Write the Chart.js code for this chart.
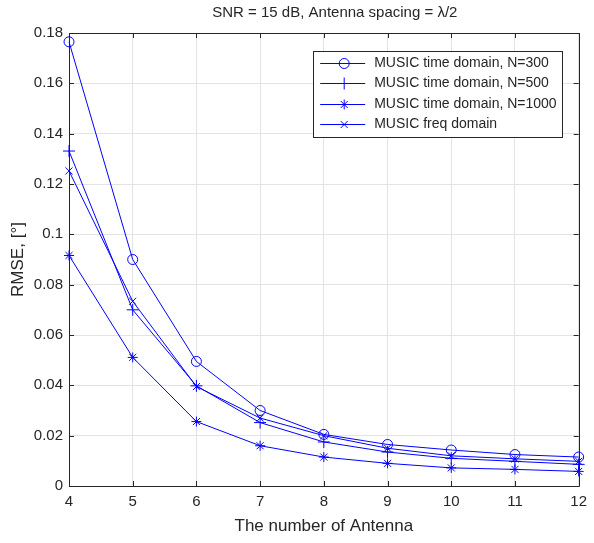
<!DOCTYPE html>
<html><head><meta charset="utf-8">
<script src="https://cdn.jsdelivr.net/npm/chart.js@4/dist/chart.umd.min.js"></script>
<style>html,body{margin:0;padding:0;background:#fff}#wrap{width:594px;height:543px;position:relative}</style>
</head><body><div id="wrap"><canvas id="c" width="594" height="543"></canvas></div>
<script>
// ---- data ----
const antennas = [4, 5, 6, 7, 8, 9, 10, 11, 12];
const rmseN300 = [0.1765, 0.0900, 0.0495, 0.0300, 0.0205, 0.0165, 0.0143, 0.0125, 0.0115];
const rmseN500 = [0.1331, 0.0700, 0.0398, 0.0252, 0.0175, 0.0135, 0.0110, 0.0098, 0.0086];
const rmseN1000 = [0.0916, 0.0511, 0.0256, 0.0160, 0.0115, 0.0090, 0.0072, 0.0066, 0.0058];
const rmseFreq = [0.1252, 0.0734, 0.0395, 0.0270, 0.0200, 0.0150, 0.0120, 0.0108, 0.0098];
const seriesLabels = ['MUSIC time domain, N=300', 'MUSIC time domain, N=500', 'MUSIC time domain, N=1000', 'MUSIC freq domain'];
const xTickValues = [4, 5, 6, 7, 8, 9, 10, 11, 12];
const yTickValues = [0, 0.02, 0.04, 0.06, 0.08, 0.1, 0.12, 0.14, 0.16, 0.18];
const titleText = 'SNR = 15 dB, Antenna spacing = \u03BB/2';
const xTitle = 'The number of Antenna';
const yTitle = 'RMSE, [\u00B0]';

const BLUE = '#0000ff';
const AXIS = '#262626';
const GRID = '#e3e3e3';
const FONT = "'Liberation Sans', Arial, sans-serif";

function pts(arr) { return antennas.map((x, i) => ({ x: x, y: arr[i] })); }
const styles = [
  { style: 'circle', r: 5 },
  { style: 'cross', r: 6 },
  { style: 'star', r: 5 },
  { style: 'crossRot', r: 5 }
];
const series = [rmseN300, rmseN500, rmseN1000, rmseFreq];
const datasets = series.map((s, i) => ({
  label: seriesLabels[i],
  data: pts(s),
  borderColor: BLUE,
  backgroundColor: 'rgba(0,0,0,0)',
  borderWidth: 1,
  pointStyle: styles[i].style,
  pointRadius: styles[i].r,
  pointBorderWidth: 1,
  pointBorderColor: BLUE,
  pointBackgroundColor: 'rgba(0,0,0,0)',
  fill: false,
  clip: false,
  tension: 0
}));

const fmt = v => String(parseFloat(Number(v).toFixed(4)));

const boxTicks = {
  id: 'boxTicks',
  beforeDatasetsDraw(chart) {
    const { ctx, chartArea: a, scales } = chart;
    ctx.save();
    ctx.strokeStyle = AXIS;
    ctx.lineWidth = 1;
    ctx.beginPath();
    ctx.rect(Math.round(a.left) + 0.5, Math.round(a.top) + 0.5, Math.round(a.right - a.left), Math.round(a.bottom - a.top));
    const L = 5;
    scales.x.ticks.forEach(t => {
      const px = Math.round(scales.x.getPixelForValue(t.value)) + 0.5;
      ctx.moveTo(px, a.bottom); ctx.lineTo(px, a.bottom - L);
      ctx.moveTo(px, a.top); ctx.lineTo(px, a.top + L);
    });
    scales.y.ticks.forEach(t => {
      const py = Math.round(scales.y.getPixelForValue(t.value)) + 0.5;
      ctx.moveTo(a.left, py); ctx.lineTo(a.left + L, py);
      ctx.moveTo(a.right, py); ctx.lineTo(a.right - L, py);
    });
    ctx.stroke();
    ctx.restore();
  },
  afterDraw(chart) {
    const { ctx, chartArea: a } = chart;
    ctx.save();
    // title centred over the axes
    ctx.font = '15px ' + FONT;
    ctx.fillStyle = AXIS;
    ctx.textAlign = 'center';
    ctx.textBaseline = 'middle';
    ctx.fillText(titleText, (a.left + a.right) / 2 + 11, 13);
    // legend
    ctx.font = '14px ' + FONT;
    const tw = Math.max(...chart.data.datasets.map(d => ctx.measureText(d.label).width));
    const right = a.right - 16, top = a.top + 18;
    const left = right - (61 + tw + 6);
    const rowH = 20.5;
    const h = 11.5 + rowH * 3 + 13;
    ctx.fillStyle = '#fff';
    ctx.fillRect(left, top, right - left, h);
    ctx.strokeStyle = AXIS;
    ctx.lineWidth = 1;
    ctx.strokeRect(Math.round(left) + 0.5, Math.round(top) + 0.5, Math.round(right - left), Math.round(h));
    chart.data.datasets.forEach((d, i) => {
      const y = Math.round(top + 11.5 + rowH * i) + 0.5;
      ctx.strokeStyle = d.borderColor;
      ctx.lineWidth = 1;
      ctx.beginPath();
      ctx.moveTo(left + 7, y); ctx.lineTo(left + 52, y);
      ctx.stroke();
      ctx.fillStyle = 'rgba(0,0,0,0)';
      ctx.strokeStyle = d.pointBorderColor;
      ctx.beginPath();
      Chart.helpers.drawPoint(ctx, { pointStyle: d.pointStyle, radius: d.pointRadius, borderWidth: 1, rotation: 0 }, left + 31, y);
      ctx.fillStyle = AXIS;
      ctx.textBaseline = 'middle';
      ctx.textAlign = 'left';
      ctx.fillText(d.label, left + 61, y);
    });
    ctx.restore();
  }
};

new Chart(document.getElementById('c'), {
  type: 'line',
  data: { datasets },
  options: {
    responsive: false,
    animation: false,
    devicePixelRatio: 1,
    layout: { padding: { left: 0, right: 4, top: 33, bottom: 0 } },
    plugins: {
      legend: { display: false },
      tooltip: { enabled: false },
      title: { display: false }
    },
    scales: {
      x: {
        type: 'linear', min: 4, max: 12,
        afterBuildTicks: s => { s.ticks = xTickValues.map(v => ({ value: v })); },
        afterFit: s => { s.height = 57; },
        ticks: { color: AXIS, font: { family: FONT, size: 15 }, padding: 7, callback: v => fmt(v), maxRotation: 0, autoSkip: false },
        grid: { color: GRID, drawTicks: false },
        border: { display: true, color: AXIS },
        title: { display: true, text: xTitle, color: AXIS, font: { family: FONT, size: 17 }, padding: { top: 0, bottom: 6 } }
      },
      y: {
        type: 'linear', min: 0, max: 0.18,
        afterBuildTicks: s => { s.ticks = yTickValues.map(v => ({ value: v })); },
        afterFit: s => { s.width = 69; },
        ticks: { color: AXIS, font: { family: FONT, size: 15 }, padding: 6, callback: v => fmt(v), autoSkip: false },
        grid: { color: GRID, drawTicks: false },
        border: { display: true, color: AXIS },
        title: { display: true, text: yTitle, color: AXIS, font: { family: FONT, size: 17 }, padding: { top: 8, bottom: 0 } }
      }
    }
  },
  plugins: [boxTicks]
});
</script>
</body></html>
